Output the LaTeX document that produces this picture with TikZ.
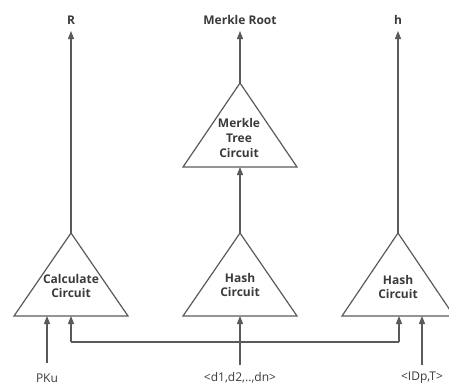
\documentclass[tikz,border=0pt]{standalone}
\usepackage{fontspec}
\setmainfont{Open Sans}
\usetikzlibrary{arrows.meta}
\definecolor{ln}{HTML}{5A5A5A}
\definecolor{tx}{HTML}{3A3A3A}
\begin{document}
\begin{tikzpicture}[x=0.75pt,y=-0.75pt,
  tri/.style={draw=ln,line width=0.9pt,line join=miter},
  conn/.style={draw=ln,line width=0.9pt,-{Triangle[length=6pt,width=4.5pt]}},
  wire/.style={draw=ln,line width=0.9pt},
  lbl/.style={font=\fontsize{9}{11}\selectfont\bfseries,text=tx,align=center,inner sep=0pt},
  inlbl/.style={font=\fontsize{9}{10}\selectfont,text=tx,inner sep=0pt}]
\useasboundingbox (0,0) rectangle (449,387);
% triangles
\coordinate (cA) at (71,233); \coordinate (cL) at (14,316); \coordinate (cR) at (128,316);
\coordinate (hA) at (240,233); \coordinate (hL) at (183,316); \coordinate (hR) at (297,316);
\coordinate (rA) at (398,233); \coordinate (rL) at (342,316); \coordinate (rR) at (454,316);
\coordinate (mA) at (240,83); \coordinate (mL) at (183,167); \coordinate (mR) at (297,167);
\draw[tri] (cA) -- (cL) -- (cR) -- cycle;
\draw[tri] (hA) -- (hL) -- (hR) -- cycle;
\draw[tri] (rA) -- (rL) -- (rR) -- cycle;
\draw[tri] (mA) -- (mL) -- (mR) -- cycle;
\node[lbl] (calc) at (71,286) {Calculate\\Circuit};
\node[lbl] (hash1) at (240,285) {Hash\\Circuit};
\node[lbl] (hash2) at (398,287) {Hash\\Circuit};
\node[lbl] (merk) at (239,138) {Merkle\\Tree\\Circuit};
% outputs
\node[lbl] (R) at (71,20) {R};
\node[lbl] (MR) at (240,20) {Merkle Root};
\node[lbl] (h) at (398,20) {h};
\coordinate (Rt) at (71,31); \coordinate (MRt) at (240,31); \coordinate (ht) at (398,31);
\draw[conn] (cA) -- (Rt);
\draw[conn] (mA) -- (MRt);
\draw[conn] (rA) -- (ht);
\draw[conn] (hA) -- (240,167);
% inputs
\node[inlbl] (pku) at (47,378) {PKu};
\node[inlbl] (ds) at (240,378) {<d1,d2,..,dn>};
\node[inlbl] (idp) at (422,378) {<IDp,T>};
\coordinate (pkuS) at (47,363); \coordinate (dS) at (240,365); \coordinate (idS) at (422,365);
\draw[conn] (pkuS) -- (47,316);
\draw[conn] (dS) -- (240,316);
\draw[conn] (idS) -- (422,316);
\coordinate (b1) at (71,342); \coordinate (b2) at (399,342);
\draw[wire] (b1) -- (b2);
\draw[conn] (b1) -- (71,316);
\draw[conn] (b2) -- (399,316);
\end{tikzpicture}
\end{document}
